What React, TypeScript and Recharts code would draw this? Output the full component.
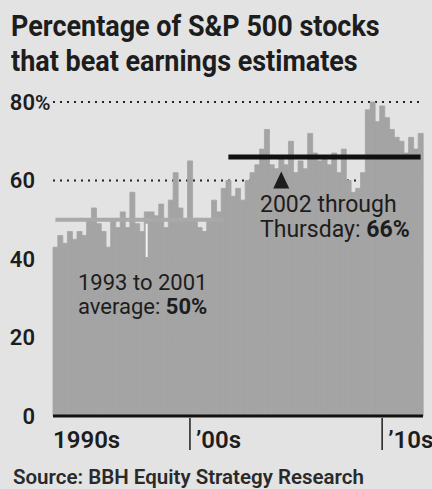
import React from 'react';
import { BarChart, Bar, XAxis, YAxis, CartesianGrid, ReferenceLine, ReferenceDot } from 'recharts';

// Quarterly share of S&P 500 companies beating estimates, 1993 Q1 .. 2012 Q1
const YEARS = [1993, 1994, 1995, 1996, 1997, 1998, 1999, 2000, 2001, 2002, 2003, 2004, 2005, 2006, 2007, 2008, 2009, 2010, 2011, 2012];
const QUARTERS = YEARS.flatMap((yr) => ['Q1', 'Q2', 'Q3', 'Q4'].map((q) => `${yr}${q}`)).slice(0, 77);

const PCT_BEAT = [
  43, 46, 44, 47, // 1993
  45, 47, 46, 50, // 1994
  53, 49, 47, 43, // 1995
  50, 48, 52, 48, // 1996
  57, 49, 47, 52, // 1997
  52, 51, 54, 48, // 1998
  55, 62, 53, 50, // 1999
  65, 50, 48, 47, // 2000
  50, 55, 52, 58, // 2001
  60, 56, 58, 55, // 2002
  60, 62, 64, 68, // 2003
  73, 64, 63, 66, // 2004
  64, 70, 62, 65, // 2005
  63, 72, 67, 65, // 2006
  66, 64, 67, 62, // 2007
  68, 60, 57, 58, // 2008
  62, 78, 80, 75, // 2009
  79, 76, 73, 71, // 2010
  70, 67, 71, 68, // 2011
  72,             // 2012
];

const Y_TICKS = [0, 20, 40, 60, 80];
const X_TICKS = ['1993Q1', '2000Q1', '2010Q1'];
const X_TICK_LABELS: Record<string, string> = { '1993Q1': '1990s', '2000Q1': '\u201900s', '2010Q1': '\u201910s' };

const AVG_EARLY = 50;
const AVG_LATE = 66;

const data = QUARTERS.map((q, i) => ({ q, pct: PCT_BEAT[i] }));

const INK = '#1d1d1d';
const PAPER = '#e3e3e3';
const BAR = '#a4a4a4';
const FONT = 'Roboto, "Open Sans", sans-serif';

const YTick = (props: any) => {
  const { y, payload } = props;
  return (
    <g>
      <text x={35} y={y} dy="0.36em" textAnchor="end" fontFamily={FONT} fontWeight={600} fontSize={22} fill={INK}>
        {payload.value}
      </text>
      {payload.value === 80 ? (
        <text x={35} y={y} dy="0.36em" fontFamily={FONT} fontWeight={600} fontSize={21} fill={INK}>%</text>
      ) : null}
    </g>
  );
};

const XTick = (props: any) => {
  const { x, payload } = props;
  const label = X_TICK_LABELS[payload.value];
  if (payload.value === '1993Q1') {
    return (
      <text x={53} y={448} fontFamily={FONT} fontWeight={600} fontSize={24} fill={INK}>{label}</text>
    );
  }
  return (
    <g>
      <line x1={x} x2={x} y1={418} y2={450} stroke={INK} strokeWidth={1.5} />
      <text x={x + 6} y={448} fontFamily={FONT} fontWeight={600} fontSize={24} fill={INK}>{label}</text>
    </g>
  );
};

const Triangle = (props: any) => {
  const { cx, cy } = props;
  return <polygon points={`${cx},${cy - 9} ${cx - 8},${cy + 8} ${cx + 8},${cy + 8}`} fill={INK} />;
};

export default function App() {
  return (
    <div style={{ position: 'absolute', left: 0, top: 0, width: 432, height: 489, background: PAPER, overflow: 'hidden', fontFamily: FONT, color: INK }}>
      <BarChart width={432} height={489} data={data} margin={{ top: 102, right: 9, left: 0, bottom: 43 }} barCategoryGap={0}>
        <CartesianGrid vertical={false} stroke="#222" strokeWidth={2} strokeDasharray="2 5" />
        <XAxis
          dataKey="q"
          ticks={X_TICKS}
          interval={0}
          tick={<XTick />}
          tickLine={false}
          axisLine={{ stroke: '#111', strokeWidth: 3 }}
          height={30}
        />
        <YAxis
          domain={[0, 80]}
          ticks={Y_TICKS}
          width={53}
          axisLine={false}
          tickLine={false}
          tick={<YTick />}
        />
        <Bar dataKey="pct" fill={BAR} stroke={BAR} strokeWidth={0.8} isAnimationActive={false} />
        <ReferenceLine
          segment={[{ x: '1993Q1', y: AVG_EARLY }, { x: '2001Q4', y: AVG_EARLY }]}
          stroke="#a9a9a9"
          strokeWidth={4}
        />
        <ReferenceLine
          segment={[{ x: '1997Q4', y: AVG_EARLY - 1 }, { x: '1997Q4', y: 40.5 }]}
          stroke="#f4f4f4"
          strokeWidth={2}
        />
        <ReferenceLine
          segment={[{ x: '2002Q1', y: AVG_LATE }, { x: '2012Q1', y: AVG_LATE }]}
          stroke="#111"
          strokeWidth={5}
        />
        <ReferenceDot x="2004Q4" y={60} r={8} shape={<Triangle />} />
      </BarChart>

      <div style={{ position: 'absolute', left: 11, top: 9, fontSize: 29, lineHeight: '35px', fontWeight: 700, whiteSpace: 'nowrap', transform: 'scaleX(0.93)', transformOrigin: 'left top' }}>
        <div>Percentage of S&amp;P 500 stocks</div>
        <div>that beat earnings estimates</div>
      </div>

      <div style={{ position: 'absolute', left: 78, top: 271, fontSize: 22, lineHeight: '24px', whiteSpace: 'nowrap' }}>
        <div>1993 to 2001</div>
        <div>average: <b>{AVG_EARLY}%</b></div>
      </div>

      <div style={{ position: 'absolute', left: 260, top: 192, fontSize: 23, lineHeight: '25px', whiteSpace: 'nowrap' }}>
        <div>2002 through</div>
        <div>Thursday: <b>{AVG_LATE}%</b></div>
      </div>

      <div style={{ position: 'absolute', left: 13, top: 466, fontSize: 20.5, lineHeight: '22px', fontWeight: 600, whiteSpace: 'nowrap', color: '#2a2a2a' }}>
        Source: BBH Equity Strategy Research
      </div>
    </div>
  );
}
